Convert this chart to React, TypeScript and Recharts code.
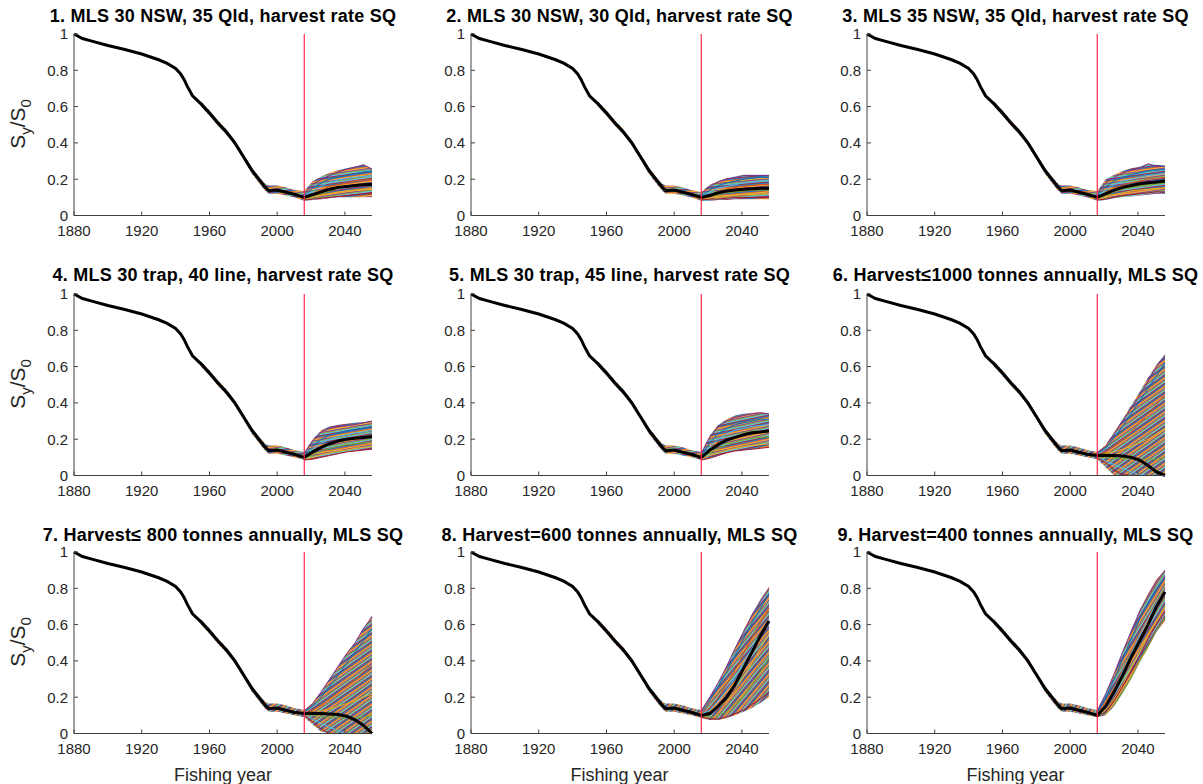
import React from 'react';
import { ComposedChart, Line, Area, XAxis, YAxis, ReferenceLine } from 'recharts';

const FONT = '"Liberation Sans", Arial, Helvetica, sans-serif';
const RUN_COLORS = ['#0072BD', '#D95319', '#EDB120', '#7E2F8E', '#77AC30', '#4DBEEE', '#A2142F'];

const TITLES = [
  '1. MLS 30 NSW, 35 Qld, harvest rate SQ',
  '2. MLS 30 NSW, 30 Qld, harvest rate SQ',
  '3. MLS 35 NSW, 35 Qld, harvest rate SQ',
  '4. MLS 30 trap, 40 line, harvest rate SQ',
  '5. MLS 30 trap, 45 line, harvest rate SQ',
  '6. Harvest\u22641000 tonnes annually, MLS SQ',
  '7. Harvest\u2264 800 tonnes annually, MLS SQ',
  '8. Harvest=600 tonnes annually, MLS SQ',
  '9. Harvest=400 tonnes annually, MLS SQ',
];

const X_TICKS = [1880, 1920, 1960, 2000, 2040];
const Y_TICKS = [0, 0.2, 0.4, 0.6, 0.8, 1];
const MANAGEMENT_YEAR = 2016;

// shared historical estimate (same in all scenarios)
const HIST_YEARS = [1880, 1885, 1890, 1900, 1910, 1920, 1930, 1935, 1940, 1943, 1945, 1947, 1950,
  1955, 1960, 1965, 1970, 1975, 1980, 1985, 1990, 1993, 1995, 2000, 2005, 2010];
const HIST_MEDIAN = [1.0, 0.975, 0.962, 0.937, 0.915, 0.89, 0.858, 0.838, 0.81, 0.78, 0.75, 0.71, 0.66,
  0.615, 0.565, 0.51, 0.46, 0.4, 0.325, 0.25, 0.19, 0.155, 0.137, 0.14, 0.128, 0.117];
const HIST_LOW = [null, null, null, null, null, null, null, null, null, null, null, null, null,
  0.6, 0.55, 0.495, 0.445, 0.385, 0.31, 0.23, 0.17, 0.135, 0.12, 0.12, 0.11, 0.1];
const HIST_HIGH = [null, null, null, null, null, null, null, null, null, null, null, null, null,
  0.63, 0.58, 0.525, 0.475, 0.415, 0.34, 0.265, 0.205, 0.175, 0.165, 0.165, 0.155, 0.14];

// projections
const PROJ_YEARS = [2016, 2021, 2026, 2031, 2036, 2041, 2046, 2051, 2056];

const P1_MEDIAN = [0.1, 0.115, 0.13, 0.145, 0.155, 0.16, 0.165, 0.17, 0.172];
const P1_LOW = [0.08, 0.085, 0.09, 0.095, 0.1, 0.1, 0.1, 0.1, 0.1];
const P1_HIGH = [0.135, 0.19, 0.215, 0.235, 0.25, 0.26, 0.27, 0.28, 0.26];
const P1_RUNS = [
  [0.11, 0.15, 0.18, 0.2, 0.21, 0.22, 0.23, 0.24, 0.245],
  [0.1, 0.12, 0.14, 0.16, 0.17, 0.18, 0.19, 0.195, 0.2],
  [0.09, 0.1, 0.11, 0.12, 0.13, 0.135, 0.14, 0.14, 0.145],
  [0.12, 0.17, 0.2, 0.22, 0.24, 0.255, 0.265, 0.28, 0.255],
  [0.095, 0.105, 0.12, 0.135, 0.15, 0.16, 0.165, 0.17, 0.175],
  [0.105, 0.135, 0.16, 0.185, 0.195, 0.205, 0.21, 0.215, 0.22],
  [0.085, 0.09, 0.095, 0.1, 0.105, 0.11, 0.115, 0.12, 0.12],
];

const P2_MEDIAN = [0.1, 0.11, 0.125, 0.135, 0.14, 0.145, 0.148, 0.15, 0.15];
const P2_LOW = [0.08, 0.08, 0.085, 0.085, 0.09, 0.09, 0.09, 0.09, 0.09];
const P2_HIGH = [0.13, 0.17, 0.19, 0.205, 0.215, 0.225, 0.225, 0.225, 0.225];
const P2_RUNS = [
  [0.11, 0.14, 0.165, 0.18, 0.19, 0.2, 0.205, 0.21, 0.21],
  [0.1, 0.115, 0.13, 0.145, 0.155, 0.16, 0.165, 0.17, 0.17],
  [0.09, 0.095, 0.1, 0.105, 0.11, 0.115, 0.115, 0.12, 0.12],
  [0.12, 0.16, 0.185, 0.2, 0.21, 0.22, 0.22, 0.22, 0.22],
  [0.095, 0.105, 0.115, 0.125, 0.13, 0.135, 0.14, 0.14, 0.14],
  [0.105, 0.13, 0.15, 0.16, 0.17, 0.18, 0.185, 0.19, 0.19],
  [0.085, 0.09, 0.09, 0.095, 0.1, 0.1, 0.1, 0.1, 0.1],
];

const P3_MEDIAN = [0.1, 0.12, 0.14, 0.155, 0.165, 0.175, 0.18, 0.185, 0.19];
const P3_LOW = [0.08, 0.085, 0.095, 0.1, 0.105, 0.11, 0.115, 0.12, 0.12];
const P3_HIGH = [0.135, 0.2, 0.225, 0.245, 0.26, 0.27, 0.285, 0.28, 0.275];
const P3_RUNS = [
  [0.11, 0.16, 0.19, 0.21, 0.225, 0.235, 0.245, 0.25, 0.255],
  [0.1, 0.125, 0.15, 0.165, 0.18, 0.19, 0.2, 0.205, 0.21],
  [0.09, 0.1, 0.115, 0.125, 0.135, 0.14, 0.145, 0.15, 0.15],
  [0.12, 0.18, 0.21, 0.235, 0.25, 0.26, 0.285, 0.27, 0.27],
  [0.095, 0.11, 0.13, 0.145, 0.155, 0.165, 0.17, 0.175, 0.18],
  [0.105, 0.14, 0.17, 0.19, 0.2, 0.21, 0.22, 0.225, 0.23],
  [0.085, 0.09, 0.1, 0.11, 0.115, 0.12, 0.125, 0.13, 0.13],
];

const P4_MEDIAN = [0.1, 0.13, 0.155, 0.175, 0.19, 0.2, 0.205, 0.21, 0.215];
const P4_LOW = [0.085, 0.09, 0.1, 0.11, 0.12, 0.13, 0.135, 0.14, 0.145];
const P4_HIGH = [0.13, 0.2, 0.25, 0.27, 0.28, 0.285, 0.29, 0.295, 0.3];
const P4_RUNS = [
  [0.11, 0.16, 0.2, 0.22, 0.235, 0.245, 0.255, 0.26, 0.27],
  [0.1, 0.13, 0.16, 0.18, 0.19, 0.2, 0.21, 0.215, 0.22],
  [0.09, 0.1, 0.115, 0.125, 0.135, 0.14, 0.15, 0.155, 0.16],
  [0.12, 0.19, 0.24, 0.26, 0.27, 0.275, 0.28, 0.29, 0.3],
  [0.095, 0.115, 0.135, 0.15, 0.16, 0.17, 0.175, 0.18, 0.185],
  [0.105, 0.145, 0.18, 0.2, 0.215, 0.225, 0.235, 0.24, 0.25],
  [0.085, 0.09, 0.1, 0.11, 0.12, 0.13, 0.135, 0.14, 0.145],
];

const P5_MEDIAN = [0.1, 0.14, 0.17, 0.195, 0.21, 0.225, 0.235, 0.24, 0.245];
const P5_LOW = [0.085, 0.095, 0.11, 0.125, 0.135, 0.14, 0.145, 0.15, 0.155];
const P5_HIGH = [0.13, 0.22, 0.28, 0.31, 0.33, 0.34, 0.345, 0.35, 0.34];
const P5_RUNS = [
  [0.11, 0.18, 0.23, 0.26, 0.28, 0.29, 0.3, 0.31, 0.31],
  [0.1, 0.145, 0.18, 0.2, 0.215, 0.23, 0.24, 0.245, 0.25],
  [0.09, 0.11, 0.125, 0.14, 0.15, 0.16, 0.165, 0.17, 0.175],
  [0.12, 0.21, 0.27, 0.3, 0.32, 0.33, 0.34, 0.345, 0.34],
  [0.095, 0.125, 0.15, 0.17, 0.185, 0.195, 0.205, 0.21, 0.215],
  [0.105, 0.16, 0.2, 0.23, 0.25, 0.26, 0.27, 0.275, 0.28],
  [0.085, 0.095, 0.11, 0.125, 0.135, 0.14, 0.145, 0.15, 0.155],
];

const P6_MEDIAN = [0.11, 0.112, 0.11, 0.108, 0.1, 0.085, 0.055, 0.02, 0.0];
const P6_LOW = [0.09, 0.045, 0.0, 0.0, 0.0, 0.0, 0.0, 0.0, 0.0];
const P6_HIGH = [0.13, 0.17, 0.24, 0.31, 0.385, 0.46, 0.54, 0.61, 0.67];
const P6_RUNS = [
  [0.12, 0.15, 0.21, 0.27, 0.34, 0.41, 0.48, 0.55, 0.62],
  [0.115, 0.13, 0.16, 0.2, 0.24, 0.29, 0.34, 0.39, 0.45],
  [0.11, 0.12, 0.13, 0.145, 0.16, 0.18, 0.2, 0.23, 0.26],
  [0.125, 0.16, 0.23, 0.3, 0.37, 0.44, 0.52, 0.6, 0.66],
  [0.105, 0.1, 0.095, 0.095, 0.09, 0.09, 0.09, 0.09, 0.1],
  [0.1, 0.08, 0.06, 0.04, 0.02, 0.005, 0.0, 0.0, 0.0],
  [0.1, 0.07, 0.03, 0.005, 0.0, 0.0, 0.0, 0.0, 0.0],
];

const P7_MEDIAN = [0.11, 0.112, 0.11, 0.108, 0.105, 0.095, 0.075, 0.045, 0.0];
const P7_LOW = [0.09, 0.05, 0.01, 0.0, 0.0, 0.0, 0.0, 0.0, 0.0];
const P7_HIGH = [0.13, 0.17, 0.23, 0.3, 0.37, 0.44, 0.5, 0.58, 0.65];
const P7_RUNS = [
  [0.12, 0.15, 0.2, 0.26, 0.32, 0.39, 0.45, 0.51, 0.58],
  [0.115, 0.13, 0.155, 0.19, 0.225, 0.26, 0.3, 0.34, 0.38],
  [0.11, 0.115, 0.125, 0.135, 0.15, 0.165, 0.18, 0.2, 0.22],
  [0.125, 0.165, 0.23, 0.3, 0.37, 0.44, 0.5, 0.58, 0.64],
  [0.105, 0.1, 0.095, 0.09, 0.09, 0.085, 0.085, 0.09, 0.1],
  [0.1, 0.08, 0.055, 0.035, 0.015, 0.0, 0.0, 0.0, 0.0],
  [0.1, 0.065, 0.025, 0.0, 0.0, 0.0, 0.0, 0.0, 0.0],
];

const P8_MEDIAN = [0.1, 0.11, 0.15, 0.2, 0.27, 0.36, 0.45, 0.54, 0.62];
const P8_LOW = [0.085, 0.075, 0.075, 0.085, 0.1, 0.12, 0.14, 0.17, 0.2];
const P8_HIGH = [0.13, 0.2, 0.28, 0.37, 0.47, 0.57, 0.66, 0.74, 0.81];
const P8_RUNS = [
  [0.12, 0.18, 0.26, 0.34, 0.43, 0.52, 0.61, 0.69, 0.77],
  [0.11, 0.14, 0.2, 0.27, 0.35, 0.44, 0.53, 0.61, 0.69],
  [0.1, 0.11, 0.14, 0.18, 0.24, 0.31, 0.39, 0.47, 0.55],
  [0.125, 0.2, 0.28, 0.37, 0.47, 0.56, 0.65, 0.73, 0.8],
  [0.095, 0.09, 0.1, 0.12, 0.16, 0.21, 0.27, 0.34, 0.42],
  [0.105, 0.13, 0.18, 0.24, 0.31, 0.39, 0.47, 0.55, 0.63],
  [0.09, 0.08, 0.08, 0.09, 0.11, 0.13, 0.16, 0.19, 0.23],
];

const P9_MEDIAN = [0.1, 0.15, 0.23, 0.32, 0.42, 0.51, 0.6, 0.7, 0.78];
const P9_LOW = [0.09, 0.1, 0.15, 0.22, 0.3, 0.39, 0.47, 0.56, 0.62];
const P9_HIGH = [0.13, 0.22, 0.33, 0.45, 0.57, 0.68, 0.77, 0.85, 0.9];
const P9_RUNS = [
  [0.12, 0.2, 0.3, 0.41, 0.52, 0.63, 0.72, 0.8, 0.86],
  [0.11, 0.17, 0.25, 0.35, 0.45, 0.55, 0.64, 0.73, 0.8],
  [0.1, 0.13, 0.19, 0.27, 0.36, 0.45, 0.54, 0.62, 0.7],
  [0.125, 0.22, 0.33, 0.45, 0.56, 0.67, 0.76, 0.84, 0.9],
  [0.095, 0.11, 0.16, 0.23, 0.31, 0.4, 0.48, 0.57, 0.64],
  [0.105, 0.16, 0.24, 0.34, 0.44, 0.54, 0.63, 0.72, 0.79],
  [0.09, 0.12, 0.18, 0.26, 0.34, 0.43, 0.52, 0.6, 0.67],
];

const PANELS = [
  { median: P1_MEDIAN, low: P1_LOW, high: P1_HIGH, runs: P1_RUNS },
  { median: P2_MEDIAN, low: P2_LOW, high: P2_HIGH, runs: P2_RUNS },
  { median: P3_MEDIAN, low: P3_LOW, high: P3_HIGH, runs: P3_RUNS },
  { median: P4_MEDIAN, low: P4_LOW, high: P4_HIGH, runs: P4_RUNS },
  { median: P5_MEDIAN, low: P5_LOW, high: P5_HIGH, runs: P5_RUNS },
  { median: P6_MEDIAN, low: P6_LOW, high: P6_HIGH, runs: P6_RUNS },
  { median: P7_MEDIAN, low: P7_LOW, high: P7_HIGH, runs: P7_RUNS },
  { median: P8_MEDIAN, low: P8_LOW, high: P8_HIGH, runs: P8_RUNS },
  { median: P9_MEDIAN, low: P9_LOW, high: P9_HIGH, runs: P9_RUNS },
];

// stripe direction of the run-cloud fill, per panel (degrees)
const STRIPE_ANGLE = [-8, -5, -8, -10, -12, -35, -35, -50, -58];

// plot-area placement (px)
const COL_LEFT = [74, 470.5, 866.5];
const ROW_TOP = [33.5, 293.5, 551.5];
const TITLE_Y = [15.5, 274.5, 535];
const PLOT_W = 298;
const PLOT_H = 181.5;
const M_LEFT = 60;
const M_TOP = 10;
const M_RIGHT = 10;
const X_AXIS_H = 40;

function buildRows(p: any) {
  const rows: any[] = HIST_YEARS.map((year, i) => ({
    year,
    median: HIST_MEDIAN[i],
    band: HIST_LOW[i] == null ? undefined : [HIST_LOW[i], HIST_HIGH[i]],
  }));
  PROJ_YEARS.forEach((year, j) => {
    const row: any = { year, median: p.median[j], band: [p.low[j], p.high[j]] };
    p.runs.forEach((run: number[], k: number) => {
      row['r' + k] = run[j];
    });
    rows.push(row);
  });
  return rows;
}

function Panel({ idx }: { idx: number }) {
  const p = PANELS[idx];
  const data = buildRows(p);
  const tickStyle = { fill: '#262626', fontSize: 15, fontFamily: FONT };
  return (
    <ComposedChart
      width={PLOT_W + M_LEFT + M_RIGHT}
      height={PLOT_H + M_TOP + X_AXIS_H}
      data={data}
      margin={{ top: M_TOP, right: M_RIGHT, bottom: 0, left: 0 }}
    >
      <defs>
        <pattern
          id={'runs' + idx}
          patternUnits="userSpaceOnUse"
          width={6}
          height={7}
          patternTransform={`rotate(${STRIPE_ANGLE[idx]})`}
        >
          {RUN_COLORS.map((c, k) => (
            <rect key={k} x={0} y={k} width={6} height={1} fill={c} />
          ))}
        </pattern>
      </defs>
      <XAxis
        dataKey="year"
        type="number"
        domain={[1880, 2056]}
        ticks={X_TICKS}
        interval={0}
        height={X_AXIS_H}
        tick={tickStyle}
        tickSize={-4}
        tickMargin={14}
        axisLine={{ stroke: '#404040' }}
        tickLine={{ stroke: '#404040' }}
      />
      <YAxis
        type="number"
        domain={[0, 1]}
        ticks={Y_TICKS}
        interval={0}
        width={M_LEFT}
        tick={tickStyle}
        tickSize={-4}
        tickMargin={10}
        tickFormatter={(v: number) => String(v)}
        axisLine={{ stroke: '#404040' }}
        tickLine={{ stroke: '#404040' }}
      />
      <Area
        dataKey="band"
        stroke="none"
        fill={`url(#runs${idx})`}
        fillOpacity={0.9}
        isAnimationActive={false}
        dot={false}
        activeDot={false}
      />
      {p.runs.map((_: number[], k: number) => (
        <Line
          key={k}
          dataKey={'r' + k}
          stroke={RUN_COLORS[k % RUN_COLORS.length]}
          strokeWidth={1}
          dot={false}
          activeDot={false}
          isAnimationActive={false}
        />
      ))}
      <Line
        dataKey="median"
        stroke="#000000"
        strokeWidth={3}
        dot={false}
        activeDot={false}
        isAnimationActive={false}
      />
      <ReferenceLine x={MANAGEMENT_YEAR} stroke="#ff2a4a" strokeWidth={1.2} />
    </ComposedChart>
  );
}

export default function App() {
  return (
    <div
      style={{
        position: 'absolute',
        left: 0,
        top: 0,
        width: 1203,
        height: 784,
        background: '#ffffff',
        fontFamily: FONT,
        color: '#000',
      }}
    >
      {PANELS.map((_, i) => {
        const col = i % 3;
        const row = Math.floor(i / 3);
        const left = COL_LEFT[col];
        const top = ROW_TOP[row];
        return (
          <React.Fragment key={i}>
            <div
              style={{
                position: 'absolute',
                left: left - 60,
                width: PLOT_W + 120,
                top: TITLE_Y[row] - 8,
                lineHeight: '16px',
                fontSize: 18,
                letterSpacing: 0.25,
                fontWeight: 'bold',
                textAlign: 'center',
                whiteSpace: 'nowrap',
              }}
            >
              {TITLES[i]}
            </div>
            <div style={{ position: 'absolute', left: left - M_LEFT, top: top - M_TOP }}>
              <Panel idx={i} />
            </div>
            {col === 0 && (
              <div
                style={{
                  position: 'absolute',
                  left: 22,
                  top: top + PLOT_H / 2,
                  transform: 'translate(-50%, -50%) rotate(-90deg)',
                  fontSize: 21,
                  lineHeight: '22px',
                  whiteSpace: 'nowrap',
                  color: '#262626',
                }}
              >
                S<sub style={{ fontSize: 15 }}>y</sub>/S<sub style={{ fontSize: 15 }}>0</sub>
              </div>
            )}
            {row === 2 && (
              <div
                style={{
                  position: 'absolute',
                  left: left,
                  width: PLOT_W,
                  top: 764,
                  lineHeight: '22px',
                  fontSize: 18,
                  textAlign: 'center',
                  color: '#262626',
                }}
              >
                Fishing year
              </div>
            )}
          </React.Fragment>
        );
      })}
    </div>
  );
}
